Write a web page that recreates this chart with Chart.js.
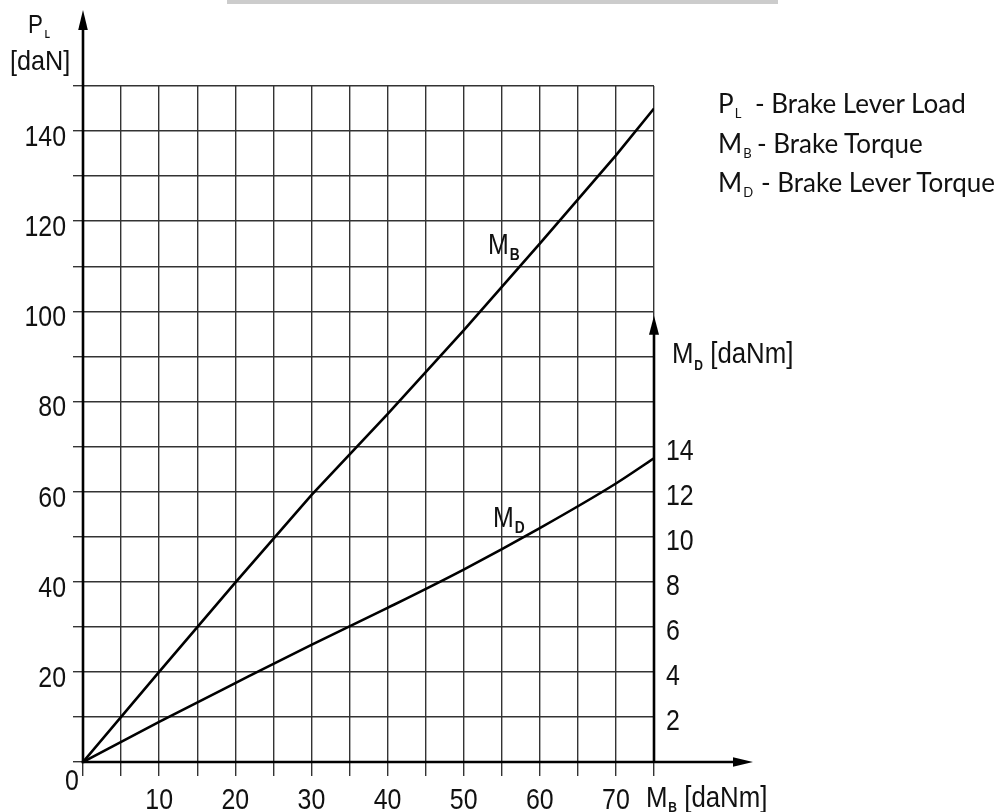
<!DOCTYPE html>
<html><head><meta charset="utf-8">
<script src="https://cdn.jsdelivr.net/npm/chart.js@4.4.1/dist/chart.umd.min.js"></script>
<style>
html,body{margin:0;padding:0;background:#fff;}
#wrap{position:relative;width:1001px;height:812px;overflow:hidden;background:#fff;}
canvas{position:absolute;left:0;top:0;}
.t{position:absolute;white-space:nowrap;font-family:"Liberation Sans",Arial,sans-serif;color:#111;line-height:1;font-size:30px;transform:scaleX(0.86);transform-origin:0 0;}
.t sub{font-size:14px;font-weight:bold;vertical-align:baseline;position:relative;top:6px;margin-left:1px;}
.leg{position:absolute;left:718px;top:86px;font-family:Lato,"Noto Sans",sans-serif;font-size:26px;color:#111;white-space:nowrap;line-height:34.5px;}
.leg .sym{display:inline-block;}
.leg sub{font-size:13px;vertical-align:baseline;position:relative;top:5px;margin-left:1px;}
#bar{position:absolute;left:227px;top:0;width:551px;height:4px;background:#cccccc;}
</style></head>
<body><div id="wrap">
<canvas id="c" width="1001" height="812"></canvas>
<div id="bar"></div>
<div class="t" style="left:28px;top:11px;font-size:26px;">P<sub style="font-size:10px;top:5px;margin-left:2px;">L</sub></div>
<div class="t" style="left:10px;top:47px;font-size:28px;transform:scaleX(0.9);">[daN]</div>
<div class="t" style="left:65px;top:765px;transform:scaleX(0.83);">0</div>
<div class="t" style="left:646px;top:782px;">M<sub style="top:5px">B</sub> [daNm]</div>
<div class="t" style="left:672px;top:338px;">M<sub style="top:7px">D</sub> [daNm]</div>
<div class="t" style="left:488px;top:230px;font-size:29px;">M<sub style="font-size:16px;">B</sub></div>
<div class="t" style="left:493px;top:503px;font-size:29px;">M<sub style="font-size:16px;">D</sub></div>
<div class="leg">
<div><span class="sym" style="width:37px">P<sub>L</sub></span>- Brake Lever Load</div>
<div><span class="sym" style="width:39px">M<sub>B</sub></span>- Brake Torque</div>
<div><span class="sym" style="width:43px">M<sub>D</sub></span>- Brake Lever Torque</div>
</div>
</div>
<script>
// M_B (brake torque, daNm) on the horizontal axis
const mbTorque = [0, 10, 20, 30, 40, 50, 60, 70, 75];
// P_L (brake lever load, daN) for the M_B curve
const leverLoad = [0, 20, 39.8, 59.2, 77.2, 95.8, 115, 134.6, 145];
// M_D (brake lever torque, daNm) curve, read on the right axis
const mdTorqueX = [0, 10, 20, 30, 40, 50, 60, 70, 75];
const leverTorque = [0, 1.78, 3.5, 5.2, 6.84, 8.54, 10.38, 12.36, 13.48];
// tick labels
const xTickLabels = [10, 20, 30, 40, 50, 60, 70];
const yTickLabels = [20, 40, 60, 80, 100, 120, 140];
const mdTickLabels = [2, 4, 6, 8, 10, 12, 14];

const FONT = '"Liberation Sans",Arial,sans-serif';
const GRID = '#333333';

// condensed tick labels, placed with the library's scales
const tickLabelPlugin = {
  id: 'condensedTicks',
  afterDraw(chart) {
    const {ctx, scales} = chart;
    const draw = (txt, px, py) => {
      ctx.save(); ctx.translate(px, py); ctx.scale(0.83, 1); ctx.fillText(txt, 0, 0); ctx.restore();
    };
    ctx.save();
    ctx.fillStyle = '#111';
    ctx.font = '30px ' + FONT;
    ctx.textBaseline = 'alphabetic';
    ctx.textAlign = 'center';
    const bottom = chart.chartArea.bottom;
    scales.x.ticks.forEach(t => { if (t.label) draw(t.label, scales.x.getPixelForValue(t.value), bottom + 47); });
    ctx.textAlign = 'right';
    scales.y.ticks.forEach(t => { if (t.label) draw(t.label, chart.chartArea.left - 17, scales.y.getPixelForValue(t.value) + 15); });
    ctx.textAlign = 'left';
    scales.yD.ticks.forEach(t => { if (t.label) draw(t.label, chart.chartArea.right + 12, scales.yD.getPixelForValue(t.value) + 13); });
    ctx.restore();
  }
};

const axesPlugin = {
  id: 'axesArrows',
  afterDraw(chart) {
    const {ctx, scales} = chart;
    const x = scales.x, y = scales.y;
    const x0 = x.getPixelForValue(0), y0 = y.getPixelForValue(0);
    const xr = x.getPixelForValue(75);
    const yTip = chart.chartArea.top - 76;
    const xTip = xr + 99;
    const mdTip = y.getPixelForValue(99);
    ctx.save();
    ctx.strokeStyle = '#000'; ctx.fillStyle = '#000'; ctx.lineWidth = 2.6; ctx.lineCap = 'butt';
    const line = (a, b, c, d) => { ctx.beginPath(); ctx.moveTo(a, b); ctx.lineTo(c, d); ctx.stroke(); };
    const tri = (p) => { ctx.beginPath(); ctx.moveTo(p[0], p[1]); ctx.lineTo(p[2], p[3]); ctx.lineTo(p[4], p[5]); ctx.closePath(); ctx.fill(); };
    // vertical P_L axis
    line(x0, y0 + 1.3, x0, yTip + 18);
    tri([x0, yTip, x0 - 4.8, yTip + 20, x0 + 4.8, yTip + 20]);
    // horizontal M_B axis
    line(x0 - 1.3, y0, xTip - 18, y0);
    tri([xTip, y0, xTip - 20, y0 - 4.8, xTip - 20, y0 + 4.8]);
    // right M_D axis
    line(xr, y0, xr, mdTip + 18);
    tri([xr, mdTip, xr - 5, mdTip + 19, xr + 5, mdTip + 19]);
    ctx.restore();
  }
};

new Chart(document.getElementById('c'), {
  type: 'line',
  data: {
    datasets: [
      {
        label: 'M_B',
        data: mbTorque.map((v, i) => ({x: v, y: leverLoad[i]})),
        yAxisID: 'y',
        borderColor: '#000', borderWidth: 2.6, pointRadius: 0, tension: 0, fill: false
      },
      {
        label: 'M_D',
        data: mdTorqueX.map((v, i) => ({x: v, y: leverTorque[i]})),
        yAxisID: 'yD',
        borderColor: '#000', borderWidth: 2.6, pointRadius: 0, cubicInterpolationMode: 'monotone', fill: false
      }
    ]
  },
  options: {
    responsive: false, animation: false, events: [],
    layout: {padding: {top: 86, left: 0, right: 0, bottom: 0}},
    plugins: {legend: {display: false}, tooltip: {enabled: false}},
    scales: {
      x: {
        type: 'linear', min: 0, max: 75, position: 'bottom',
        afterFit: (s) => { s.height = 50; },
        border: {display: false},
        grid: {color: GRID, lineWidth: 1.4, tickLength: 14, tickColor: GRID, tickWidth: 1.4},
        ticks: {display: false, stepSize: 5, autoSkip: false, maxRotation: 0,
          font: {family: FONT, size: 30},
          callback: (v) => xTickLabels.includes(v) ? String(v) : ''}
      },
      y: {
        type: 'linear', min: 0, max: 150, position: 'left',
        afterFit: (s) => { s.width = 83; },
        border: {display: false},
        grid: {color: GRID, lineWidth: 1.4, tickLength: 10, tickColor: GRID, tickWidth: 1.4},
        ticks: {display: false, stepSize: 10, autoSkip: false,
          font: {family: FONT, size: 30},
          callback: (v) => yTickLabels.includes(v) ? String(v) : ''}
      },
      yD: {
        type: 'linear', min: 0, max: 30, position: 'right',
        afterFit: (s) => { s.width = 347; },
        border: {display: false},
        grid: {display: false, drawTicks: false, drawOnChartArea: false},
        ticks: {display: false, stepSize: 2, autoSkip: false,
          font: {family: FONT, size: 30},
          callback: (v) => mdTickLabels.includes(v) ? String(v) : ''}
      }
    }
  },
  plugins: [tickLabelPlugin, axesPlugin]
});
</script>
</body></html>
